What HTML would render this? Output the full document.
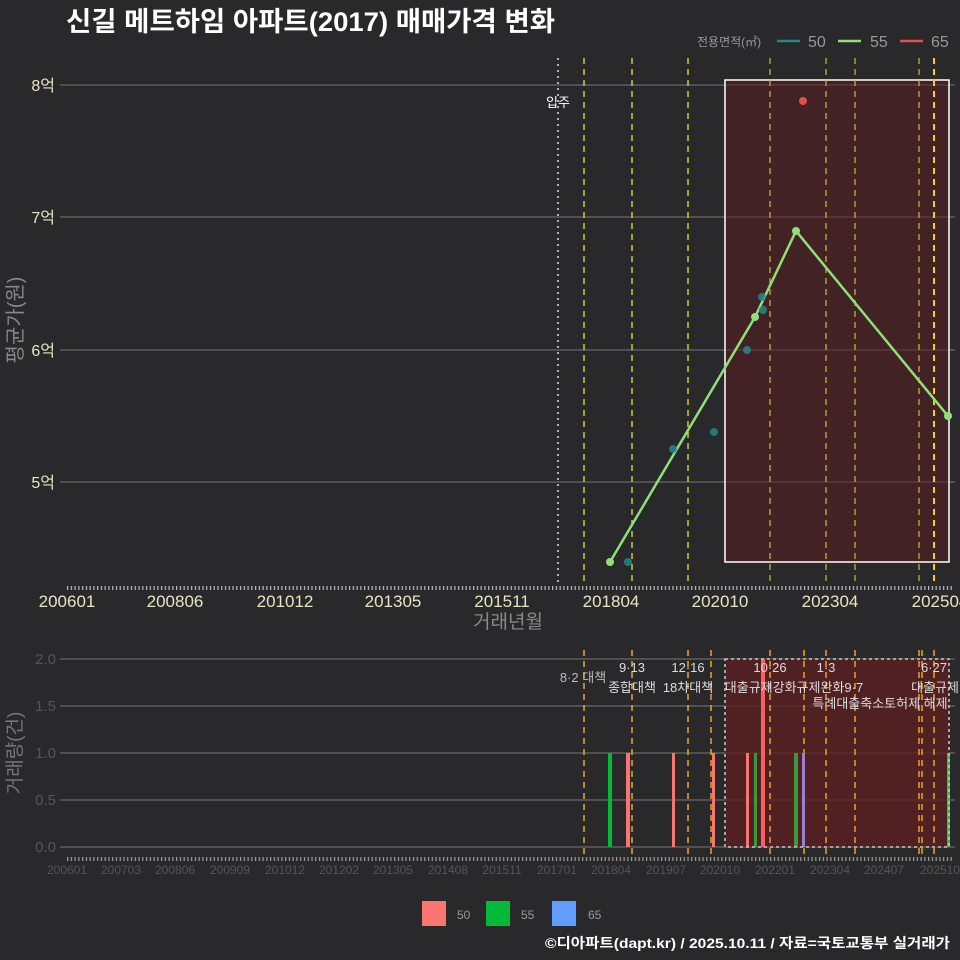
<!DOCTYPE html>
<html><head><meta charset="utf-8"><style>
body{margin:0;background:#29292b;}
svg{display:block;font-family:"Liberation Sans","Noto Sans CJK KR",sans-serif;}
</style></head><body>
<svg width="960" height="960" viewBox="0 0 960 960">
<defs>
<pattern id="tk" x="67" y="0" width="3.76" height="10" patternUnits="userSpaceOnUse"><rect x="0" y="0" width="1.2" height="10" fill="#bbb"/></pattern>
</defs>
<rect width="960" height="960" fill="#29292b"/>
<text x="66" y="31" font-size="27" font-weight="bold" fill="#fff" textLength="489" lengthAdjust="spacingAndGlyphs">신길 메트하임 아파트(2017) 매매가격 변화</text>
<!-- legend top -->
<text x="697" y="46" font-size="12" fill="#999">전용면적(㎡)</text>
<line x1="777" y1="41" x2="800" y2="41" stroke="#1f8a8a" stroke-width="2.5"/>
<text x="808" y="47" font-size="16" fill="#999">50</text>
<line x1="838" y1="41" x2="861" y2="41" stroke="#8fe07a" stroke-width="2.5"/>
<text x="870" y="47" font-size="16" fill="#999">55</text>
<line x1="900" y1="41" x2="923" y2="41" stroke="#e05050" stroke-width="2.5"/>
<text x="931" y="47" font-size="16" fill="#999">65</text>

<g stroke="#777" stroke-width="1">
<line x1="60" y1="85" x2="955" y2="85"/><line x1="60" y1="217" x2="955" y2="217"/>
<line x1="60" y1="350" x2="955" y2="350"/><line x1="60" y1="482" x2="955" y2="482"/>
</g>
<g font-size="16" fill="#e8e4c0" text-anchor="end">
<text x="55" y="91">8억</text><text x="55" y="223">7억</text><text x="55" y="356">6억</text><text x="55" y="488">5억</text>
</g>
<rect x="725" y="80" width="224" height="482" fill="#5a1e22" fill-opacity="0.55" stroke="#fff" stroke-width="1.5"/>
<line x1="558" y1="58" x2="558" y2="585" stroke="#ddd" stroke-width="1.5" stroke-dasharray="2,4"/>
<text x="558" y="107" font-size="13" fill="#fff" text-anchor="middle">입주</text>
<g stroke="#e6e62a" stroke-width="1.3" stroke-dasharray="6,5">
<line x1="584" y1="58" x2="584" y2="585"/><line x1="632" y1="58" x2="632" y2="585"/>
<line x1="688" y1="58" x2="688" y2="585"/><line x1="770" y1="58" x2="770" y2="585" stroke="#c9b02a"/>
<line x1="826" y1="58" x2="826" y2="585" stroke="#c9b02a"/><line x1="855" y1="58" x2="855" y2="585" stroke="#c9b02a"/>
<line x1="919" y1="58" x2="919" y2="585" stroke="#c9b02a"/><line x1="934" y1="58" x2="934" y2="585" stroke="#f0d020" stroke-width="2"/>
</g>
<polyline points="610,562 755,317 796,231 948,416" fill="none" stroke="#8fe07a" stroke-width="2.5"/>
<g fill="#8fe07a"><circle cx="610" cy="562" r="4"/><circle cx="755" cy="317" r="4"/><circle cx="796" cy="231" r="4"/><circle cx="948" cy="416" r="4"/></g>
<g fill="#1f8a8a" fill-opacity="0.85"><circle cx="628" cy="562" r="4"/><circle cx="673" cy="449" r="4"/><circle cx="714" cy="432" r="4"/><circle cx="747" cy="350" r="4"/><circle cx="762" cy="297" r="4"/><circle cx="763" cy="310" r="4"/></g>
<circle cx="803" cy="101" r="4" fill="#e05050"/>
<rect x="67" y="586" width="885" height="4" fill="url(#tk)"/>
<g font-size="17" fill="#e8e4c0" text-anchor="middle">
<text x="67" y="607">200601</text><text x="175" y="607">200806</text><text x="285" y="607">201012</text><text x="393" y="607">201305</text><text x="502" y="607">201511</text><text x="611" y="607">201804</text><text x="720" y="607">202010</text><text x="830" y="607">202304</text><text x="940" y="607">202504</text>
</g>
<text x="508" y="628" font-size="19" fill="#888" text-anchor="middle">거래년월</text>
<text transform="translate(22,320) rotate(-90)" font-size="20" fill="#888" text-anchor="middle">평균가(원)</text>

<g stroke="#777" stroke-width="1">
<line x1="60" y1="659" x2="955" y2="659"/><line x1="60" y1="706" x2="955" y2="706"/>
<line x1="60" y1="753" x2="955" y2="753"/><line x1="60" y1="800" x2="955" y2="800"/><line x1="60" y1="847" x2="955" y2="847"/>
</g>
<g font-size="15" fill="#555" text-anchor="end">
<text x="56" y="664">2.0</text><text x="56" y="711">1.5</text><text x="56" y="758">1.0</text><text x="56" y="805">0.5</text><text x="56" y="852">0.0</text>
</g>
<text transform="translate(21,753) rotate(-90)" font-size="19" fill="#777" text-anchor="middle">거래량(건)</text>
<rect x="725" y="659" width="224" height="188" fill="#5a1e22" fill-opacity="0.8"/>
<g stroke="#e8a820" stroke-width="1.5" stroke-dasharray="6,5">
<line x1="584" y1="650" x2="584" y2="857"/><line x1="632" y1="650" x2="632" y2="857"/>
<line x1="688" y1="650" x2="688" y2="857"/><line x1="711" y1="650" x2="711" y2="857"/>
<line x1="770" y1="650" x2="770" y2="857"/><line x1="804" y1="650" x2="804" y2="857"/>
<line x1="826" y1="650" x2="826" y2="857"/><line x1="855" y1="650" x2="855" y2="857"/>
<line x1="919" y1="650" x2="919" y2="857"/><line x1="922" y1="650" x2="922" y2="857"/><line x1="934" y1="650" x2="934" y2="857"/>
</g>
<g>
<rect x="608" y="753" width="4" height="94" fill="#00ba38"/>
<rect x="626" y="753" width="4" height="94" fill="#f8766d"/>
<rect x="672" y="753" width="3" height="94" fill="#f8766d"/>
<rect x="712" y="753" width="3" height="94" fill="#f8766d"/>
<rect x="746" y="753" width="3" height="94" fill="#f8766d"/>
<rect x="754" y="753" width="3" height="94" fill="#3a9a3a"/>
<rect x="761" y="659" width="4" height="188" fill="#f86060"/>
<rect x="794" y="753" width="4" height="94" fill="#3a9a3a"/>
<rect x="802" y="753" width="3" height="94" fill="#9a80d0"/>
<rect x="947" y="753" width="3" height="94" fill="#3aba4a"/>
</g>
<rect x="725" y="659" width="224" height="188" fill="none" stroke="#ccc" stroke-width="1.5" stroke-dasharray="3,3"/>
<g font-size="13" fill="#ddd" text-anchor="middle">
<text x="583" y="682" fill="#bbb">8·2 대책</text>
<text x="632" y="672">9·13</text><text x="632" y="692">종합대책</text>
<text x="688" y="672">12·16</text><text x="688" y="692">18차대책</text>
<text x="770" y="672">10·26</text><text x="794" y="692">대출규제강화규제완화9·7</text>
<text x="826" y="672">1·3</text><text x="880" y="708">특례대출축소토허제 해제</text>
<text x="934" y="672">6·27</text><text x="935" y="692">대출규제</text>
</g>
<rect x="67" y="857" width="885" height="4" fill="url(#tk)" opacity="0.8"/>
<g font-size="12" fill="#555" text-anchor="middle">
<text x="67" y="874">200601</text><text x="121" y="874">200703</text><text x="175" y="874">200806</text><text x="230" y="874">200909</text><text x="285" y="874">201012</text><text x="339" y="874">201202</text><text x="393" y="874">201305</text><text x="448" y="874">201408</text><text x="502" y="874">201511</text><text x="557" y="874">201701</text><text x="611" y="874">201804</text><text x="666" y="874">201907</text><text x="720" y="874">202010</text><text x="775" y="874">202201</text><text x="830" y="874">202304</text><text x="884" y="874">202407</text><text x="940" y="874">202510</text>
</g>
<rect x="422" y="901" width="24" height="25" fill="#f8766d"/><text x="457" y="919" font-size="12" fill="#999">50</text>
<rect x="486" y="901" width="24" height="25" fill="#00ba38"/><text x="521" y="919" font-size="12" fill="#999">55</text>
<rect x="552" y="901" width="24" height="25" fill="#619cff"/><text x="588" y="919" font-size="12" fill="#999">65</text>
<text x="950" y="948" font-size="14" font-weight="bold" fill="#fff" text-anchor="end" textLength="405" lengthAdjust="spacingAndGlyphs">©디아파트(dapt.kr) / 2025.10.11 / 자료=국토교통부 실거래가</text>
</svg>
</body></html>
